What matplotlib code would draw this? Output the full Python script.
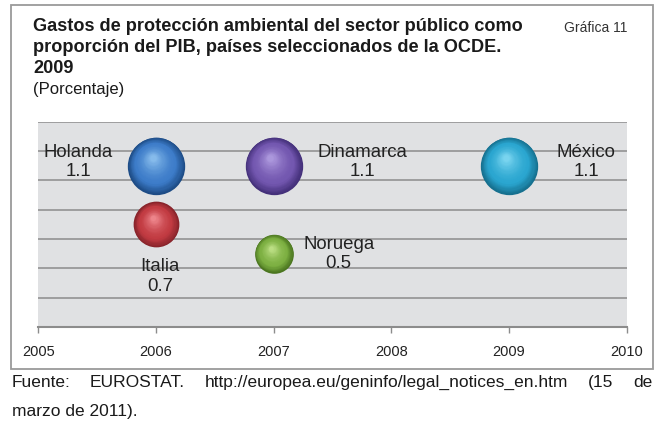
import numpy as np
import matplotlib
matplotlib.use('Agg')
import matplotlib.pyplot as plt
import matplotlib.patches as patches
from matplotlib.transforms import ScaledTranslation
from matplotlib.colors import to_rgb

plt.rcParams['font.family'] = ['Liberation Sans', 'DejaVu Sans']

# datos
paises = ['Holanda', 'Dinamarca', 'México', 'Italia', 'Noruega']
anios = [2006, 2007, 2009, 2006, 2007]
valores = [1.1, 1.1, 1.1, 0.7, 0.5]
x_ticks = [2005, 2006, 2007, 2008, 2009, 2010]

# colores de cada burbuja: (borde, medio, brillo)
colores = [('#1d4c86', '#3d7cc9', '#8cc0ee'),
           ('#44307a', '#7357b0', '#b09ce0'),
           ('#16708f', '#2aa6d0', '#7fd8f2'),
           ('#86232a', '#c23b42', '#f08a90'),
           ('#4b7620', '#7db042', '#c0e288')]
# desplazamiento de etiquetas (px)
offs = [(-78, 3.5), (89, 3.5), (77, 3.5), (4, -52), (65, -0.5)]

W, H = 659, 423
fig = plt.figure(figsize=(W/100, H/100), dpi=100)
fig.patch.set_facecolor('white')

# marco
fig.add_artist(patches.Rectangle((11/W, 1-369/H), 642/W, 364/H, transform=fig.transFigure,
                                 fill=False, edgecolor='#9a9a9a', lw=1.3))

ax = fig.add_axes([38.3/W, 1-327/H, (626.7-38.3)/W, (327-121.7)/H])
ax.set_facecolor('#e0e1e3')
ax.set_xlim(2005, 2010)
ax.set_ylim(0, 1.4)
ax.set_yticks(np.arange(0, 1.41, 0.2))
ax.yaxis.grid(True, color='#8c8c8c', lw=1.1)
ax.set_axisbelow(True)
ax.tick_params(axis='y', left=False, labelleft=False)
ax.set_xticks(x_ticks)
ax.set_xticklabels([str(t) for t in x_ticks], fontsize=10.5, color='#222222')
ax.tick_params(axis='x', direction='out', length=4, width=1, color='#8c8c8c', pad=9)
for s in ['left', 'right', 'top']:
    ax.spines[s].set_visible(False)
ax.spines['bottom'].set_color('#8c8c8c')
ax.spines['bottom'].set_linewidth(1.5)


def mezcla(a, b, t):
    a, b = np.array(to_rgb(a)), np.array(to_rgb(b))
    return tuple(a + (b - a) * t)


escala = 1550
n = 30
for i in range(len(paises)):
    s = valores[i] * escala
    r = np.sqrt(s) / 2
    borde, medio, brillo = colores[i]
    ax.scatter([anios[i]], [valores[i]], s=s, color=borde, lw=0, zorder=3)
    for k in range(1, n):
        t = k / n
        rk = r * (1 - 0.92 * t)
        if t < 0.3:
            c = mezcla(borde, medio, t / 0.3)
        else:
            c = mezcla(medio, brillo, ((t - 0.3) / 0.7) ** 1.6)
        tr = ax.transData + ScaledTranslation(-0.12 * r * t / 72, 0.28 * r * t / 72, fig.dpi_scale_trans)
        ax.scatter([anios[i]], [valores[i]], s=(2 * rk) ** 2, color=c, lw=0, zorder=3, transform=tr)
    ax.annotate(paises[i] + '\n' + str(valores[i]), (anios[i], valores[i]),
                xytext=(offs[i][0] * 0.72, offs[i][1] * 0.72), textcoords='offset points',
                ha='center', va='center', multialignment='center', fontsize=13.4,
                color='#222222', zorder=4, linespacing=1.2)

# titulos
fig.text(33/W, 1-31/H, 'Gastos de protección ambiental del sector público como',
         fontsize=13.1, fontweight='bold', color='#1a1a1a', va='baseline')
fig.text(33/W, 1-52/H, 'proporción del PIB, países seleccionados de la OCDE.',
         fontsize=13.1, fontweight='bold', color='#1a1a1a', va='baseline')
fig.text(33/W, 1-73/H, '2009', fontsize=13.1, fontweight='bold', color='#1a1a1a', va='baseline')
fig.text(33/W, 1-94/H, '(Porcentaje)', fontsize=12, color='#1a1a1a', va='baseline')
fig.text(564/W, 1-32/H, 'Gráfica 11', fontsize=10, color='#333333', va='baseline')

# fuente, justificada
palabras = ['Fuente:', 'EUROSTAT.', 'http://europea.eu/geninfo/legal_notices_en.htm', '(15', 'de']
renderer = fig.canvas.get_renderer()
textos = [fig.text(0, 1-387/H, p, fontsize=12.5, color='#1a1a1a', va='baseline') for p in palabras]
anchos = [t.get_window_extent(renderer).width for t in textos]
x0, x1 = 11.5, 652
hueco = (x1 - x0 - sum(anchos)) / (len(palabras) - 1)
x = x0
for t, w in zip(textos, anchos):
    t.set_x(x / W)
    x += w + hueco
fig.text(11.5/W, 1-416/H, 'marzo de 2011).', fontsize=12.5, color='#1a1a1a', va='baseline')

fig.savefig('out.png', dpi=100)
